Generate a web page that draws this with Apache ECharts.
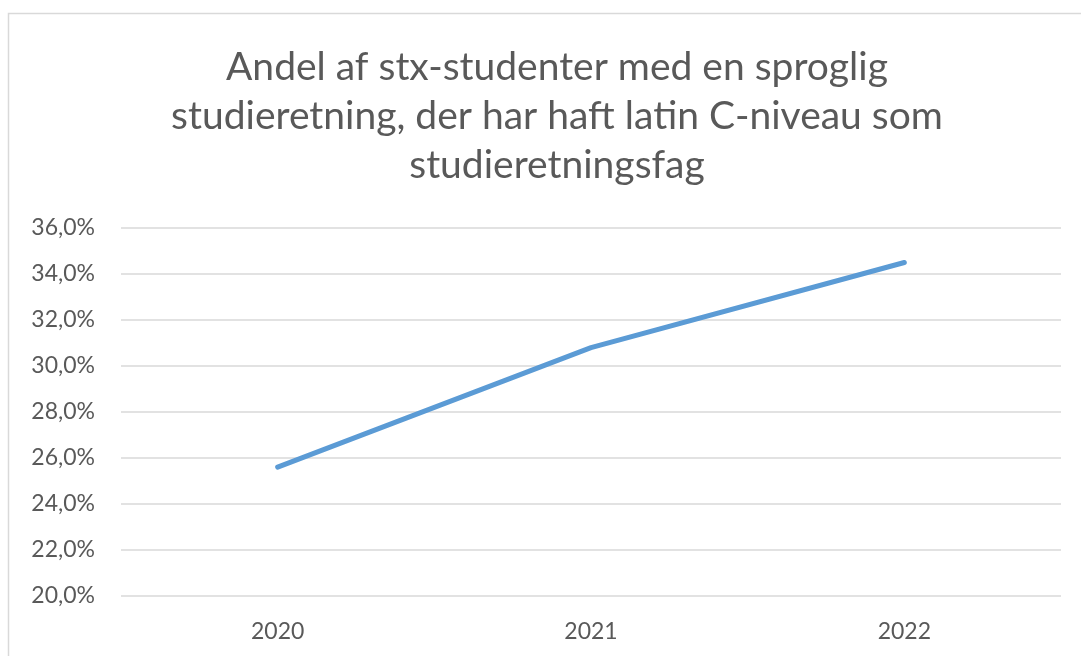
<!DOCTYPE html>
<html lang="da">
<head>
    <meta charset="UTF-8">
    <title>Latin C-niveau</title>
    <script src="https://cdn.jsdelivr.net/npm/echarts@6/dist/echarts.min.js"></script>
    <style>
        html, body { margin: 0; padding: 0; background: #fff; }
    </style>
</head>
<body>
    <div id="main" style="width: 1081px;height:656px;"></div>
    <script type="text/javascript">
        // data
        const years = ['2020', '2021', '2022'];
        const shares = [25.6, 30.8, 34.5];   // percent
        const chartTitle = 'Andel af stx-studenter med en sproglig\nstudieretning, der har haft latin C-niveau som\nstudieretningsfag';

        let myChart = echarts.init(document.getElementById('main'));
        let options = {
            animation: false,
            textStyle: { fontFamily: 'Lato' },
            title: {
                text: chartTitle,
                left: 552,
                top: 38,
                textAlign: 'center',
                textStyle: {
                    fontFamily: 'Lato',
                    fontSize: 39,
                    fontWeight: 'normal',
                    lineHeight: 49,
                    color: '#595959'
                }
            },
            graphic: [{
                type: 'rect',
                shape: { x: 8.5, y: 13.5, width: 1200, height: 800 },
                style: { fill: 'none', stroke: '#d9d9d9', lineWidth: 1.5 },
                silent: true
            }],
            grid: { left: 121, right: 20, top: 228, bottom: 60 },
            xAxis: {
                type: 'category',
                data: years,
                boundaryGap: true,
                axisLine: { show: false },
                axisTick: { show: false },
                axisLabel: { color: '#595959', fontSize: 23, margin: 24 }
            },
            yAxis: {
                type: 'value',
                min: 20,
                max: 36,
                interval: 2,
                axisLine: { show: false },
                axisTick: { show: false },
                splitLine: { lineStyle: { color: '#d9d9d9', width: 1.5 } },
                axisLabel: {
                    color: '#595959',
                    fontSize: 23,
                    margin: 26,
                    formatter: v => v.toFixed(1).replace('.', ',') + '%'
                }
            },
            series: [{
                type: 'line',
                data: shares,
                symbol: 'none',
                lineStyle: { color: '#5b9bd5', width: 5, cap: 'round' }
            }]
        };
        myChart.setOption(options);
    </script>
</body>
</html>
